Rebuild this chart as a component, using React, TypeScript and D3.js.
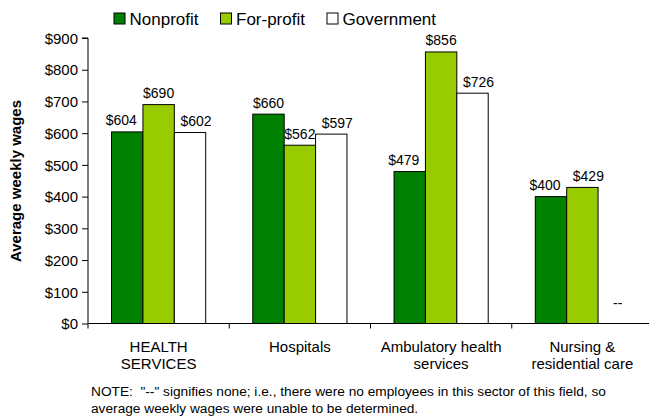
import React, { useEffect, useRef } from 'react';
import * as d3 from 'd3';

const categories = [['HEALTH', 'SERVICES'], ['Hospitals'], ['Ambulatory health', 'services'], ['Nursing &', 'residential care']];
const seriesNames = ['Nonprofit', 'For-profit', 'Government'];
const nonprofit = [604, 660, 479, 400];
const forprofit = [690, 562, 856, 429];
const government: (number | null)[] = [602, 597, 726, null];
const yTicks = [0, 100, 200, 300, 400, 500, 600, 700, 800, 900];
const colors = ['#008000', '#99CC00', '#FFFFFF'];
const noteLines = [
  'NOTE:  "--" signifies none; i.e., there were no employees in this sector of this field, so',
  'average weekly wages were unable to be determined.',
];

const FONT = 'Arial, "Liberation Sans", sans-serif';

const App = () => {
  const ref = useRef<SVGSVGElement>(null);

  useEffect(() => {
    const svg = d3.select(ref.current);
    svg.selectAll('*').remove();

    const left = 88, right = 653, top = 38, bottom = 323.5;
    const values = [nonprofit, forprofit, government];

    // scales
    const y = d3.scaleLinear().domain([0, 900]).range([bottom, top]);
    const x0 = d3.scaleBand().domain(categories.map((_, i) => String(i))).range([left, right]).padding(0);
    const x1 = d3.scaleBand().domain(seriesNames).range([0, x0.bandwidth()]).paddingOuter(0.75).paddingInner(0);

    // y axis
    const yAxis = d3.axisLeft(y).tickValues(yTicks).tickSize(6).tickFormat(d => '$' + d);
    const gy = svg.append('g').attr('transform', `translate(${left},0)`).call(yAxis);
    gy.select('.domain').attr('stroke', '#000').attr('d', `M-6,${top}H0V${bottom}`);
    gy.selectAll('.tick line').attr('stroke', '#000');
    gy.selectAll('.tick text').attr('x', -10).attr('dy', '0.35em')
      .style('font-family', FONT).style('font-size', '15px').attr('fill', '#000');

    // bars
    seriesNames.forEach((s, si) => {
      svg.append('g').selectAll('rect')
        .data(values[si].map((v, ci) => ({ v, ci })).filter(d => d.v !== null))
        .enter()
        .append('rect')
        .attr('x', d => (x0(String(d.ci)) as number) + (x1(s) as number))
        .attr('y', d => y(d.v as number))
        .attr('width', x1.bandwidth())
        .attr('height', d => bottom - y(d.v as number))
        .attr('fill', colors[si])
        .attr('stroke', '#000')
        .attr('stroke-width', 1);

      // labels nudged outward so neighbours don't collide
      const nudge = (ci: number, v: number | null) => {
        if (v === null) return 4;
        if (si === 0) return v < forprofit[ci] ? -6 : 0;
        if (si === 2) return 6;
        return government[ci] === null ? 6 : 0;
      };
      svg.append('g').selectAll('text')
        .data(values[si].map((v, ci) => ({ v, ci })))
        .enter()
        .append('text')
        .attr('x', d => (x0(String(d.ci)) as number) + (x1(s) as number) + x1.bandwidth() / 2 + nudge(d.ci, d.v))
        .attr('y', d => d.v === null ? bottom - 16 : y(d.v) - 6.5)
        .attr('text-anchor', 'middle')
        .style('font-family', FONT).style('font-size', '14px')
        .text(d => d.v === null ? '--' : '$' + d.v);
    });

    // x axis baseline + category ticks
    svg.append('line').attr('x1', left).attr('x2', 649).attr('y1', bottom).attr('y2', bottom).attr('stroke', '#000');
    svg.append('g').selectAll('line')
      .data(categories.map((_, i) => i))
      .enter()
      .append('line')
      .attr('x1', i => x0(String(i)) as number).attr('x2', i => x0(String(i)) as number)
      .attr('y1', bottom).attr('y2', bottom + 5)
      .attr('stroke', '#000');

    const cl = svg.append('g').selectAll('text')
      .data(categories)
      .enter()
      .append('text')
      .attr('text-anchor', 'middle')
      .style('font-family', FONT).style('font-size', '15px');
    cl.each(function (lines, i) {
      const cx = (x0(String(i)) as number) + x0.bandwidth() / 2;
      lines.forEach((ln, li) => {
        d3.select(this).append('tspan').attr('x', cx).attr('y', 351.5 + li * 17.5).text(ln);
      });
    });

    // y title
    svg.append('text')
      .attr('transform', 'translate(21,181) rotate(-90)')
      .attr('text-anchor', 'middle')
      .style('font-family', FONT).style('font-size', '15px').style('font-weight', 'bold')
      .text('Average weekly wages');

    // legend
    const legendX = [114, 220.5, 327];
    seriesNames.forEach((s, i) => {
      svg.append('rect').attr('x', legendX[i]).attr('y', 13).attr('width', 11).attr('height', 11)
        .attr('fill', colors[i]).attr('stroke', '#000');
      svg.append('text').attr('x', legendX[i] + 15.5).attr('y', 24.5)
        .style('font-family', FONT).style('font-size', '17px').text(s);
    });

    // note
    noteLines.forEach((ln, i) => {
      svg.append('text').attr('x', 91).attr('y', 396 + i * 16.5)
        .style('font-family', FONT).style('font-size', '13.7px').style('white-space', 'pre').text(ln);
    });
  }, []);

  return (
    <svg ref={ref} width={649} height={420}
      style={{ position: 'absolute', left: 0, top: 0, background: '#fff' }} />
  );
};

export default App;
